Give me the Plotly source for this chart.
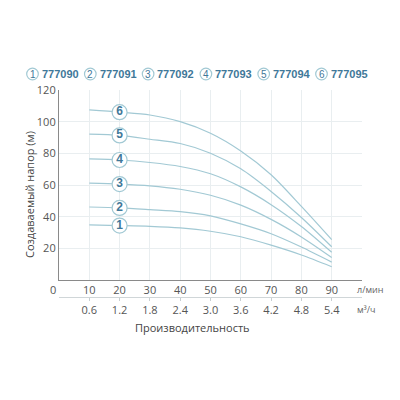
import plotly.graph_objects as go

flow_lpm = [10, 20, 30, 40, 50, 60, 70, 80, 90]
flow_m3h_labels = ["0.6", "1.2", "1.8", "2.4", "3.0", "3.6", "4.2", "4.8", "5.4"]
models = ["777090", "777091", "777092", "777093", "777094", "777095"]
head_1 = [34.8, 34.4, 33.9, 32.9, 30.8, 27.3, 22.0, 15.8, 8.4]
head_2 = [46.1, 45.5, 44.4, 43.2, 40.5, 35.4, 29.2, 20.8, 11.3]
head_3 = [61.2, 60.6, 59.5, 57.3, 53.5, 47.3, 38.3, 27.2, 14.2]
head_4 = [76.5, 75.8, 74.2, 71.7, 67.1, 58.8, 47.6, 33.8, 17.5]
head_5 = [92.1, 91.3, 88.9, 86.2, 80.1, 70.2, 55.9, 39.5, 21.0]
head_6 = [107.4, 106.0, 104.2, 100.0, 92.7, 81.5, 66.5, 46.5, 25.5]
heads = [head_1, head_2, head_3, head_4, head_5, head_6]
y_ticks = [20, 40, 60, 80, 100, 120]

LINE = "#a2c9d4"
TXT = "#3f7899"
FONT = "Open Sans"

fig = go.Figure()
for i, h in enumerate(heads):
    fig.add_trace(go.Scatter(x=flow_lpm, y=h, mode="lines",
                             line=dict(color=LINE, width=1.2, shape="spline", smoothing=0.8),
                             hoverinfo="skip", showlegend=False))
for i, h in enumerate(heads):
    fig.add_trace(go.Scatter(x=[flow_lpm[1]], y=[h[1]], mode="markers+text", text=[str(i + 1)],
                             textposition="middle center",
                             textfont=dict(family="Liberation Sans", size=12, color=TXT, weight="bold"),
                             marker=dict(size=15, color="white", line=dict(color=LINE, width=1.2)),
                             hoverinfo="skip", showlegend=False))

fig.add_trace(go.Scatter(x=[0, 100], y=[None, None], xaxis="x2", showlegend=False, hoverinfo="skip"))

OFF = 8  # page body margin
FW = FH = 392
SL, SR, ST, SB = 59, 362, 90, 297


def fx(x):
    return x - OFF


L = fx(SL)
T = fx(ST)
R = FW - fx(SR)
B = FH - fx(SB)
W = FW - L - R
H = FH - T - B


def px(x):
    return (fx(x) - L) / W


def py(y):
    return (fx(SB) - fx(y)) / H


ydom0 = py(280)

fig.update_layout(
    width=FW, height=FH,
    margin=dict(l=L, r=R, t=T, b=B, autoexpand=False),
    plot_bgcolor="white", paper_bgcolor="white",
    font=dict(family=FONT, color="#555555", size=11),
    xaxis=dict(range=[0, 100], tickvals=flow_lpm, ticktext=[str(v) for v in flow_lpm],
               showgrid=True, gridcolor="#e9eef0", gridwidth=1, zeroline=False, automargin=False,
               showline=True, linecolor="#8a8a8a", linewidth=1.2, ticks="", ticklabelstandoff=0,
               tickfont=dict(size=11, color="#555555"), anchor="y"),
    xaxis2=dict(range=[0, 100], tickvals=flow_lpm, ticktext=flow_m3h_labels, overlaying="x",
                anchor="free", position=0, side="bottom", showgrid=False, zeroline=False, automargin=False,
                showline=True, linecolor="#d0d6d8", linewidth=1, ticks="outside", ticklen=3,
                tickcolor="#c8cfd2", tickfont=dict(size=11, color="#555555")),
    yaxis=dict(range=[0, 120], domain=[ydom0, 1], tickvals=y_ticks, automargin=False,
               showgrid=True, gridcolor="#e9eef0", gridwidth=1, zeroline=False,
               showline=True, linecolor="#8a8a8a", linewidth=1.2, ticks="",
               tickfont=dict(size=11, color="#555555")),
    showlegend=False,
)


def note(x, y, text, size=11, color="#555555", xanchor="center", family=None, angle=0):
    f = dict(size=size, color=color)
    if family:
        f["family"] = family
    return dict(x=px(x), y=py(y), xref="paper", yref="paper", text=text, showarrow=False,
                xanchor=xanchor, yanchor="middle", textangle=angle, font=f)


ann = [
    note(53, 289, "0"),
    note(355, 289, "л/мин", size=9, color="#666666", xanchor="left"),
    note(355, 309, "м³/ч", size=9, color="#666666", xanchor="left"),
    note(192, 327, "Производительность", color="#444444"),
    note(29, 195, "Создаваемый напор (м)", color="#444444", angle=-90),
]

shapes = []
for i, m in enumerate(models):
    cx = 32.5 + i * 57.8
    cy = 74
    r = 5.8
    shapes.append(dict(type="circle", xref="paper", yref="paper",
                       x0=px(cx - r), x1=px(cx + r), y0=py(cy + r), y1=py(cy - r),
                       line=dict(color=LINE, width=1.2), fillcolor="white"))
    ann.append(note(cx, cy + 0.5, str(i + 1), size=10, color=TXT, family="Liberation Sans"))
    ann.append(note(cx + r + 1.5, cy, "<b>" + m + "</b>", size=11, color=TXT, xanchor="left",
                    family="Liberation Sans Narrow, Liberation Sans"))

fig.update_layout(annotations=ann, shapes=shapes)
fig.write_html("out.html")
